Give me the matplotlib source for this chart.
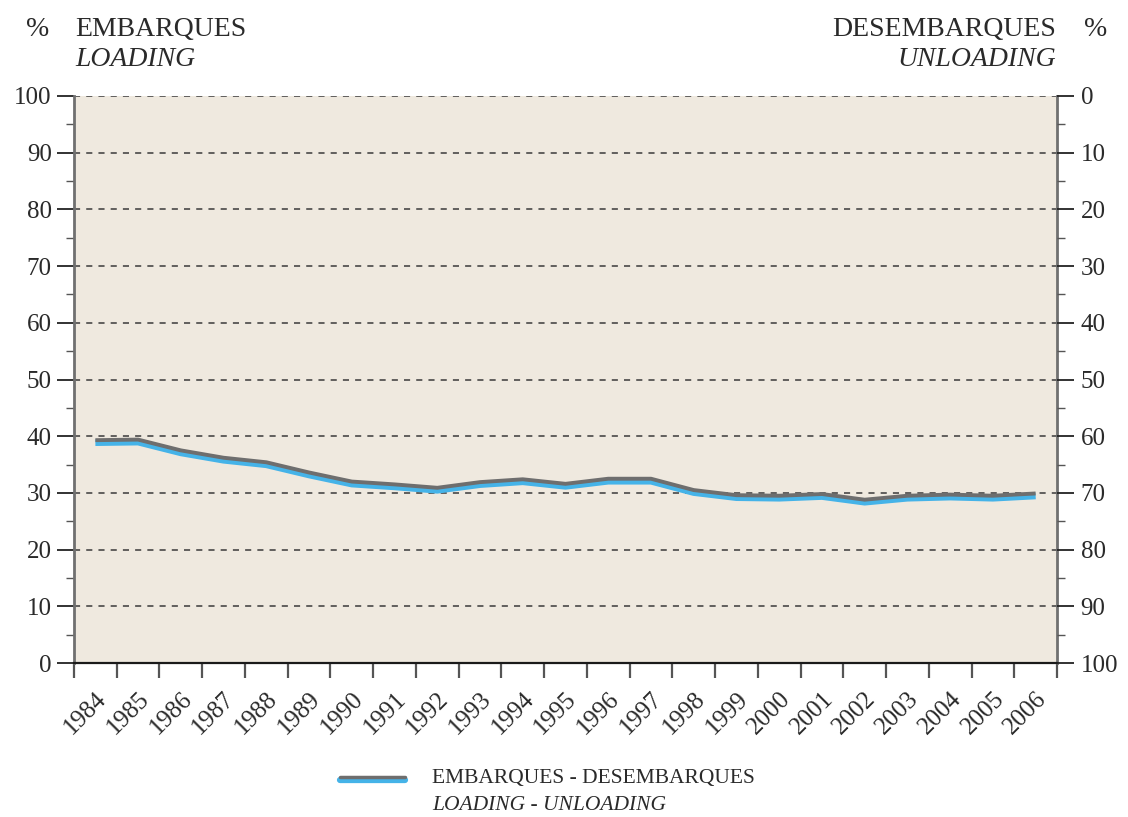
import matplotlib.pyplot as plt
import matplotlib.transforms as mtransforms
from matplotlib.lines import Line2D
from matplotlib.ticker import MultipleLocator

years = [str(y) for y in range(1984, 2007)]
loading = [39.3, 39.4, 37.5, 36.2, 35.4, 33.6, 32.0, 31.5, 30.9, 31.9, 32.4, 31.6,
           32.5, 32.5, 30.5, 29.6, 29.5, 29.8, 28.8, 29.5, 29.7, 29.5, 29.9]
left_ticks = list(range(0, 101, 10))
right_labels = [str(100 - v) for v in left_ticks]

bg = '#EFE9DF'
grey = '#6E6E6E'
blue = '#45B3E8'
txt = '#2A2A2A'
plt.rcParams['font.family'] = ['Liberation Serif', 'DejaVu Serif']

fig = plt.figure(figsize=(11.28, 8.17), dpi=100)
ax = fig.add_axes([74 / 1128, 1 - 663 / 817, (1057 - 74) / 1128, (663 - 96) / 817])
ax.set_facecolor(bg)

x = list(range(len(years)))
# blue line sits slightly below the grey one
off = mtransforms.offset_copy(ax.transData, fig=fig, x=0, y=-2.5, units='dots')
ax.plot(x, loading, color=blue, lw=4.8, transform=off, solid_capstyle='butt', zorder=3)
ax.plot(x, loading, color=grey, lw=2.8, solid_capstyle='butt', zorder=4)

ax.set_xlim(-0.5, len(years) - 0.5)
ax.set_ylim(0, 100)

# grid
for v in left_ticks[1:]:
    ax.axhline(v, color='#3A3A3A', lw=1.1, ls=(0, (4, 4)), zorder=1)

ax.spines['top'].set_visible(False)
ax.spines['left'].set_color('#707070')
ax.spines['left'].set_linewidth(2)
ax.spines['right'].set_color('#707070')
ax.spines['right'].set_linewidth(2)
ax.spines['bottom'].set_color('#1A1A1A')
ax.spines['bottom'].set_linewidth(1.6)

# x ticks: boundaries as marks, labels at centres
ax.set_xticks([i - 0.5 for i in range(len(years) + 1)])
ax.set_xticklabels([])
ax.tick_params(axis='x', which='major', length=11, width=1.6, color='#555555', direction='out')
ax.set_xticks(x, minor=True)
ax.set_xticklabels(years, minor=True, rotation=45, ha='right', rotation_mode='anchor',
                   fontsize=18, color=txt)
ax.tick_params(axis='x', which='minor', length=0, pad=18)

ax.set_yticks(left_ticks)
ax.set_yticklabels([str(v) for v in left_ticks], fontsize=18, color=txt)
ax.yaxis.set_minor_locator(MultipleLocator(5))
ax.tick_params(axis='y', which='major', length=12, width=1.3, color='#222222', pad=4)
ax.tick_params(axis='y', which='minor', length=6, width=1.0, color='#555555')

ax2 = ax.twinx()
ax2.set_ylim(0, 100)
ax2.set_yticks(left_ticks)
ax2.set_yticklabels(right_labels, fontsize=18, color=txt)
ax2.yaxis.set_minor_locator(MultipleLocator(5))
ax2.tick_params(axis='y', which='major', length=12, width=1.3, color='#222222', pad=5)
ax2.tick_params(axis='y', which='minor', length=6, width=1.0, color='#555555')
for s in ['top', 'left', 'bottom', 'right']:
    ax2.spines[s].set_visible(False)

# headers
fig.text(38 / 1128, 1 - 30 / 817, '%', fontsize=20, color=txt, ha='center', va='center')
fig.text(75 / 1128, 1 - 30 / 817, 'EMBARQUES', fontsize=20, color=txt, ha='left', va='center')
fig.text(75 / 1128, 1 - 59 / 817, 'LOADING', fontsize=20, color=txt, ha='left', va='center',
         style='italic')
fig.text(1096 / 1128, 1 - 30 / 817, '%', fontsize=20, color=txt, ha='center', va='center')
fig.text(1056 / 1128, 1 - 30 / 817, 'DESEMBARQUES', fontsize=20, color=txt, ha='right', va='center')
fig.text(1056 / 1128, 1 - 59 / 817, 'UNLOADING', fontsize=20, color=txt, ha='right', va='center',
         style='italic')

# legend
fig.add_artist(Line2D([340 / 1128, 405 / 1128], [1 - 779.5 / 817, 1 - 779.5 / 817],
                      color=blue, lw=4.5, solid_capstyle='round'))
fig.add_artist(Line2D([340 / 1128, 405 / 1128], [1 - 777 / 817, 1 - 777 / 817],
                      color=grey, lw=2.5, solid_capstyle='round'))
fig.text(432 / 1128, 1 - 778 / 817, 'EMBARQUES - DESEMBARQUES', fontsize=15.5, color=txt,
         ha='left', va='center')
fig.text(432 / 1128, 1 - 806 / 817, 'LOADING - UNLOADING', fontsize=15.5, color=txt,
         ha='left', va='center', style='italic')

fig.savefig('out.png', dpi=100)
